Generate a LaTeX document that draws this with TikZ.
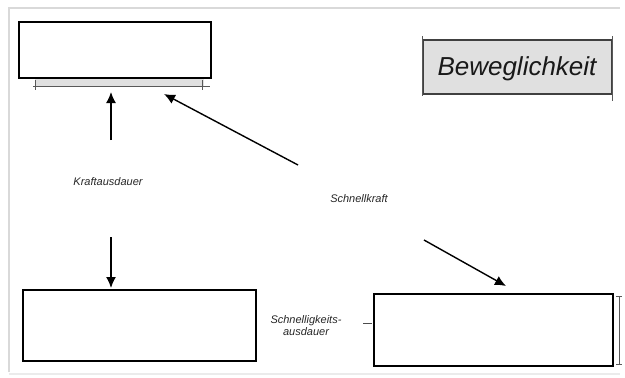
\documentclass[tikz,border=0pt]{standalone}
\usepackage{fontspec}
\setmainfont{Liberation Sans}
\usetikzlibrary{arrows.meta}
\begin{document}
\begin{tikzpicture}[x=1pt,y=-1pt,
  blank/.style={draw=black,line width=1.4pt,fill=white,inner sep=0pt},
  hand/.style={font=\itshape,text=black!85,inner sep=0pt},
  arr/.style={line width=1.4pt,-{Latex[length=11pt,width=10pt]}},
  frame/.style={draw=black!15,line width=2pt},
  rule/.style={draw=black!65,line width=1pt}]
\useasboundingbox (0,0) rectangle (625,378);
% page frame
\draw[frame] (9,372) -- (9,8) -- (620,8);
\draw[draw=black!8,line width=2pt] (9,374) -- (620,374);
% strip under top-left box
\fill[black!12] (35,78) rectangle (204,86);
\draw[rule] (33,86) -- (210,86);
\draw[rule] (35,80) -- (35,90);
\draw[rule] (202,80) -- (202,90);
% boxes
\node[blank,minimum width=192pt,minimum height=56pt] (tl) at (115,50) {};
\node[blank,minimum width=233pt,minimum height=71pt] (bl) at (139.5,325.5) {};
\node[blank,minimum width=239pt,minimum height=72pt] (br) at (493.5,330) {};
% right rule of bottom-right box
\draw[rule] (619,296) -- (619,364);
\draw[rule] (616,296) -- (622,296);
\draw[rule] (616,364) -- (622,364);
% Beweglichkeit box
\node[draw=black!75,line width=1.4pt,fill=black!12,minimum width=189pt,minimum height=54pt,inner sep=0pt] (bw) at (517.5,67) {};
\draw[rule] (bw.north west) ++(0,-3) -- ++(0,60);
\draw[rule] (bw.north east) ++(0,-3) -- ++(0,65);
\node[hand,text=black!90,font=\itshape\fontsize{26}{30}\selectfont] (bwt) at (517,69) {Beweglichkeit};
% labels
\node[hand,font=\itshape\fontsize{11}{12}\selectfont] (ka) at (108,182) {Kraftausdauer};
\node[hand,font=\itshape\fontsize{11}{12}\selectfont] (sk) at (359,199) {Schnellkraft};
\node[hand,font=\itshape\fontsize{11}{12}\selectfont,align=center] (sa) at (306,326) {Schnelligkeits-\\ausdauer};
\draw[black!70,line width=0.8pt] (363,323) -- (372,323);
% arrow coordinates
\coordinate (a1s) at (111,140);
\coordinate (a1e) at (111,92);
\coordinate (a2s) at (111,237);
\coordinate (a2e) at (111,288);
\coordinate (a3s) at (298,165);
\coordinate (a3e) at (164,94);
\coordinate (a4s) at (424,240);
\coordinate (a4e) at (506,286);
\draw[arr] (a1s) -- (a1e);
\draw[arr] (a2s) -- (a2e);
\draw[arr] (a3s) -- (a3e);
\draw[arr] (a4s) -- (a4e);
\end{tikzpicture}
\end{document}
